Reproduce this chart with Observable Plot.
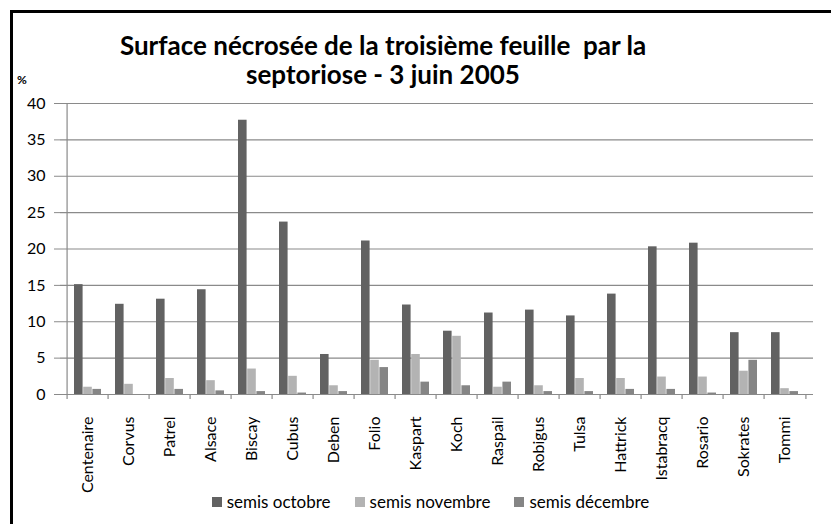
<!DOCTYPE html>
<html>
<head>
<meta charset="utf-8">
<script src="https://cdn.jsdelivr.net/npm/d3@7"></script>
<script src="https://cdn.jsdelivr.net/npm/@observablehq/plot@0.6"></script>
<style>
  html, body { margin: 0; padding: 0; background: #fff; }
  body { width: 831px; height: 524px; position: relative; overflow: hidden; font-family: Lato, "Open Sans", sans-serif; }
  #frame { position: absolute; left: 10px; top: 10px; width: 840px; height: 540px; border-top: 3px solid #000; border-left: 3px solid #000; }
  #title { position: absolute; left: 0; top: 31px; width: 766px; text-align: center; font-weight: bold; font-size: 26px; line-height: 29px; white-space: pre; color: #000; }
  #unit { position: absolute; left: 17px; top: 72px; font-weight: bold; font-size: 12px; }
  #chart { position: absolute; left: 0; top: 0; }
  #legend { position: absolute; left: 0; top: 491px; width: 861px; display: flex; justify-content: center; font-size: 17px; color: #000; }
  .item { display: flex; align-items: center; margin: 0 12px; }
  .sw { width: 10px; height: 10px; margin-right: 5px; }
</style>
</head>
<body>
<div id="frame"></div>
<div id="chart"></div>
<div id="title">Surface nécrosée de la troisième feuille  par la
septoriose - 3 juin 2005</div>
<div id="unit">%</div>
<div id="legend"></div>
<script>
const categories = ["Centenaire","Corvus","Patrel","Alsace","Biscay","Cubus","Deben","Folio","Kaspart","Koch","Raspail","Robigus","Tulsa","Hattrick","Istabracq","Rosario","Sokrates","Tommi"];
const series = ["semis octobre","semis novembre","semis décembre"];
const semisOctobre  = [15.1,12.4,13.1,14.4,37.7,23.7,5.5,21.1,12.3,8.7,11.2,11.6,10.8,13.8,20.3,20.8,8.5,8.5];
const semisNovembre = [1.0,1.4,2.2,1.9,3.5,2.5,1.2,4.7,5.5,8.0,1.0,1.2,2.2,2.2,2.4,2.4,3.2,0.8];
const semisDecembre = [0.7,0,0.7,0.5,0.4,0.2,0.4,3.7,1.7,1.2,1.7,0.4,0.4,0.7,0.7,0.2,4.7,0.4];
const yTicks = [0,5,10,15,20,25,30,35,40];
const colors = ["#626262","#b3b3b3","#858585"];

const values = [semisOctobre, semisNovembre, semisDecembre];
const data = categories.flatMap((c, i) => series.map((s, j) => ({cat: c, serie: s, value: values[j][i]})));

const W = 831, H = 524, mL = 60, mR = 18, mT = 103, mB = 130;
const padIn = 0.34;
const step = (W - mL - mR) / categories.length;
const third = step * (1 - padIn) / 3;
const grey = "#8a8a8a";

const bars = series.map((s, j) => Plot.barY(data.filter(d => d.serie === s), {
  x: "cat", y: "value", fill: colors[j],
  insetLeft: j * third, insetRight: (2 - j) * third
}));

const chart = Plot.plot({
  width: W, height: H,
  marginLeft: mL, marginRight: mR, marginTop: mT, marginBottom: mB,
  style: {fontFamily: "Lato, 'Open Sans', sans-serif", fontSize: "16px", color: "#000", background: "transparent"},
  x: {domain: categories, paddingInner: padIn, paddingOuter: padIn / 2},
  y: {domain: [0, 40]},
  marks: [
    Plot.gridY(yTicks, {stroke: grey, strokeOpacity: 1, strokeWidth: 1.2}),
    Plot.ruleX([categories[0]], {dx: -step / 2, stroke: grey, strokeWidth: 1.2}),
    Plot.ruleX(categories, {x: d => d, dx: -step / 2, y1: 0, y2: -0.7, stroke: grey, strokeWidth: 1.2}),
    Plot.ruleX([categories[categories.length - 1]], {x: d => d, dx: step / 2, y1: 0, y2: -0.7, stroke: grey, strokeWidth: 1.2}),
    ...bars,
    Plot.ruleY([0], {stroke: grey, strokeWidth: 1.2}),
    Plot.axisY({ticks: yTicks, tickSize: 6, tickPadding: 9, stroke: grey, fontSize: 16, label: null}),
    Plot.axisX({tickSize: 0, tickRotate: -90, tickPadding: 22, fontSize: 16, label: null})
  ]
});
document.getElementById("chart").appendChild(chart);

const legend = document.getElementById("legend");
series.forEach((s, j) => {
  const it = document.createElement("div");
  it.className = "item";
  const sw = document.createElement("span");
  sw.className = "sw";
  sw.style.background = colors[j];
  it.appendChild(sw);
  it.appendChild(document.createTextNode(s));
  legend.appendChild(it);
});
</script>
</body>
</html>
